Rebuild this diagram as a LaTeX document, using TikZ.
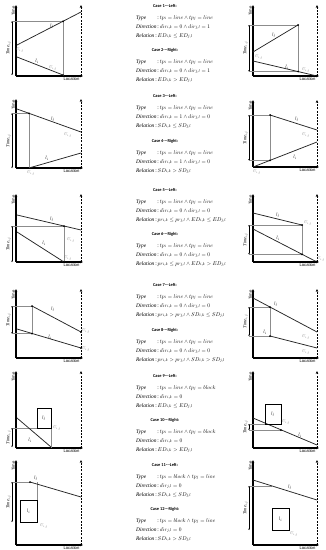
\documentclass[tikz,border=0pt]{standalone}
\usepackage{fontspec}
\setmainfont{Liberation Serif}
\setsansfont{Liberation Sans}
\newfontfamily\hdrfont{Carlito}
\usetikzlibrary{arrows.meta}
\newlength\dirw
\newcommand\chartaxes[4]{%
  \draw[axis] (#1,#3) -- (#1,#2);
  \draw[axis] (#1,#3) -- (#4+2,#3);
  \draw[dashax] (#4,#3) -- (#4,#2);
  \node[lab,rotate=90,anchor=south east] at (#1-0.6,#2+1) {Time};
  \node[lab,anchor=north east] at (#4-1,#3+1.2) {Location};}
\newcommand\tbracket[3]{%
  \draw[brk] (#1,#2) -- (#1,#3);
  \node[lab2,rotate=90] at (#1-3.6,{(#2+#3)/2}) {\textit{Time}$_{i,j}$};}
\newcommand\casetext[5]{%
  \node[hdr] at (165,#1) {#2};
  \node[txt] at (136,#1+12) {\makebox[\dirw][l]{\textit{Type}}\,:\,#3};
  \node[txt] at (136,#1+21) {\textit{Direction}\,:\,#4};
  \node[txt] at (136,#1+30) {\textit{Relation}\,:\,#5};}
\begin{document}
\settowidth{\dirw}{\fontsize{10.8}{12}\selectfont\textit{Direction}}%
\begin{tikzpicture}[x=2pt,y=-2pt,
  axis/.style={line width=2.2pt,-{Stealth[length=6pt,width=5.2pt]}},
  dashax/.style={line width=1.8pt,dash pattern=on 4pt off 2.4pt,-{Stealth[length=6pt,width=5.2pt]}},
  ln/.style={line width=1.5pt,black!85},
  gl/.style={line width=0.7pt,black!45},
  brk/.style={line width=0.7pt,{Stealth[length=2.8pt,width=3.2pt]}-{Stealth[length=2.8pt,width=3.2pt]}},
  dot/.style={circle,fill=black,inner sep=0pt,minimum size=4pt},
  lab/.style={font=\sffamily\fontsize{8.4}{10}\selectfont,inner sep=1pt},
  lab2/.style={font=\fontsize{9}{10}\selectfont,inner sep=0pt},
  ll/.style={font=\fontsize{9.6}{10}\selectfont,inner sep=0pt},
  ul/.style={font=\fontsize{8}{10}\selectfont,inner sep=0pt,text=black!55},
  blk/.style={line width=1.2pt},
  hdr/.style={font=\hdrfont\bfseries\fontsize{8.8}{10}\selectfont,inner sep=0pt},
  txt/.style={font=\fontsize{10.8}{12}\selectfont,anchor=west,inner sep=0pt}]
\useasboundingbox[fill=white] (0,0) rectangle (326,550);

% ---------- middle texts ----------
\casetext{6}{Case 1---Left:}{$tp_i=line\wedge tp_j=line$}{$dir_{i,k}=0\wedge dir_{j,l}=1$}{$ED_{i,k}\le ED_{j,l}$}
\casetext{50}{Case 2---Right:}{$tp_i=line\wedge tp_j=line$}{$dir_{i,k}=0\wedge dir_{j,l}=1$}{$ED_{i,k}> ED_{j,l}$}
\casetext{96}{Case 3---Left:}{$tp_i=line\wedge tp_j=line$}{$dir_{i,k}=1\wedge dir_{j,l}=0$}{$SD_{i,k}\le SD_{j,l}$}
\casetext{141}{Case 4---Right:}{$tp_i=line\wedge tp_j=line$}{$dir_{i,k}=1\wedge dir_{j,l}=0$}{$SD_{i,k}> SD_{j,l}$}
\casetext{190}{Case 5---Left:}{$tp_i=line\wedge tp_j=line$}{$dir_{i,k}=0\wedge dir_{j,l}=0$}{$pr_{i,k}\le pr_{j,l}\wedge ED_{i,k}\le ED_{j,l}$}
\casetext{234}{Case 6---Right:}{$tp_i=line\wedge tp_j=line$}{$dir_{i,k}=0\wedge dir_{j,l}=0$}{$pr_{i,k}\le pr_{j,l}\wedge ED_{i,k}> ED_{j,l}$}
\casetext{285}{Case 7---Left:}{$tp_i=line\wedge tp_j=line$}{$dir_{i,k}=0\wedge dir_{j,l}=0$}{$pr_{i,k}> pr_{j,l}\wedge SD_{i,k}\le SD_{j,l}$}
\casetext{330}{Case 8---Right:}{$tp_i=line\wedge tp_j=line$}{$dir_{i,k}=0\wedge dir_{j,l}=0$}{$pr_{i,k}> pr_{j,l}\wedge SD_{i,k}> SD_{j,l}$}
\casetext{376}{Case 9---Left:}{$tp_i=line\wedge tp_j=block$}{$dir_{i,k}=0$}{$ED_{i,k}\le ED_{j,l}$}
\casetext{420}{Case 10---Right:}{$tp_i=line\wedge tp_j=block$}{$dir_{i,k}=0$}{$ED_{i,k}> ED_{j,l}$}
\casetext{465}{Case 11---Left:}{$tp_i=block\wedge tp_j=line$}{$dir_{j,l}=0$}{$SD_{i,k}\le SD_{j,l}$}
\casetext{509}{Case 12---Right:}{$tp_i=block\wedge tp_j=line$}{$dir_{j,l}=0$}{$SD_{i,k}> SD_{j,l}$}

% ---------- Row 1 left ----------
\chartaxes{16}{5}{76}{81}
\draw[gl] (12,21.3) -- (63,21.3) -- (63,76);
\draw[ln] (17,45) -- (81,12);
\draw[ln] (17,57) -- (63,75);
\node[dot] at (63,21.3) {}; \node[dot] at (63,75) {};
\tbracket{12}{21.3}{75}
\node[ll] at (52,26) {$l_j$}; \node[ll] at (37,61) {$l_i$};
\node[ul] at (20,50) {$U_{i,j}$}; \node[ul] at (53,68) {$U_{i,j}$};
% ---------- Row 1 right ----------
\chartaxes{253}{5}{76}{317}
\draw[gl] (249,25) -- (298,25) -- (298,71.5) (249,71.5) -- (298,71.5);
\draw[ln] (253,52) -- (298,25);
\draw[ln] (253,61) -- (317,76);
\node[dot] at (298,25) {}; \node[dot] at (298,71.5) {}; \node[dot] at (316,76) {};
\tbracket{249}{25}{71.5}
\node[ll] at (274,35) {$l_j$}; \node[ll] at (287,67) {$l_i$};
\node[ul] at (259,57) {$U_{i,j}$}; \node[ul] at (306,70) {$U_{i,j}$};
% ---------- Row 2 left ----------
\chartaxes{16}{99}{168}{81}
\draw[gl] (12,113.3) -- (29,113.3) -- (29,168);
\draw[ln] (17,109) -- (81,132);
\draw[ln] (29,168) -- (81,153);
\node[dot] at (29,113.3) {};
\tbracket{12}{113.3}{168}
\node[ll] at (53,119) {$l_j$}; \node[ll] at (47,158) {$l_i$};
\node[ul] at (68,135) {$U_{i,j}$}; \node[ul] at (31,173) {$U_{i,j}$};
% ---------- Row 2 right ----------
\chartaxes{253}{100}{167}{317}
\draw[gl] (249,115) -- (270,115) -- (270,160.4) (249,160.4) -- (270,160.4);
\draw[ln] (270,115) -- (317,130);
\draw[ln] (253,167) -- (317,142);
\node[dot] at (270,115) {}; \node[dot] at (270,160.4) {};
\tbracket{249}{115}{160.4}
\node[ll] at (297,119) {$l_j$}; \node[ll] at (295,157) {$l_i$};
\node[ul] at (306,135) {$U_{i,j}$}; \node[ul] at (257,172) {$U_{i,j}$};
% ---------- Row 3 left ----------
\chartaxes{16}{194}{262}{81}
\draw[gl] (12,226) -- (64,226) -- (64,262);
\draw[ln] (17,215) -- (81,230);
\draw[ln] (17,232) -- (64,262);
\node[dot] at (64,226) {}; \node[dot] at (64,261.5) {};
\tbracket{12}{226}{262}
\node[ll] at (52,219) {$l_j$}; \node[ll] at (44,243) {$l_i$};
\node[ul] at (71,240) {$U_{i,j}$}; \node[ul] at (68,258) {$U_{i,j}$};
% ---------- Row 3 right ----------
\chartaxes{253}{194}{262}{317}
\draw[gl] (249,225) -- (302,225) -- (302,254.3) (249,254.3) -- (302,254.3);
\draw[ln] (253,213) -- (302,225);
\draw[ln] (253,229) -- (317,262);
\node[dot] at (302,225) {}; \node[dot] at (302,254.3) {}; \node[dot] at (316,261.5) {};
\tbracket{249}{225}{254.3}
\node[ll] at (278,215) {$l_j$}; \node[ll] at (278,238) {$l_i$};
\node[ul] at (308,223) {$U_{i,j}$}; \node[ul] at (321,259) {$U_{i,j}$};
% ---------- Row 4 left ----------
\chartaxes{16}{289}{358}{81}
\draw[gl] (12,306) -- (32,306) -- (32,333.5) (12,333.5) -- (32,333.5);
\draw[ln] (32,306) -- (81,332);
\draw[ln] (17,329) -- (81,348);
\node[dot] at (32,306) {}; \node[dot] at (32,333.5) {};
\node[dot] at (81,332) {}; \node[dot] at (81,348) {};
\tbracket{12}{306}{333.5}
\node[ll] at (53,309) {$l_j$}; \node[ll] at (50,337) {$l_i$};
\node[ul] at (86,331) {$U_{i,j}$}; \node[ul] at (86,349) {$U_{i,j}$};
% ---------- Row 4 right ----------
\chartaxes{253}{289}{358}{317}
\draw[gl] (249,307) -- (270,307) -- (270,336) (249,336) -- (270,336);
\draw[ln] (253,298) -- (317,332);
\draw[ln] (270,336) -- (317,348);
\node[dot] at (270,307) {}; \node[dot] at (270,336) {};
\tbracket{249}{307}{336}
\node[ll] at (276,304) {$l_j$}; \node[ll] at (265,332) {$l_i$};
\node[ul] at (306,337) {$U_{i,j}$}; \node[ul] at (306,352) {$U_{i,j}$};
% ---------- Row 5 left ----------
\chartaxes{16}{371}{448}{81}
\draw[gl] (12,428) -- (37,428) (51,428) -- (51,448);
\draw[ln] (17,418) -- (51,447);
\draw[blk] (37,408) rectangle (51,428);
\node[ll] (b9) at (44,418) {$l_j$};
\tbracket{12}{428}{447}
\node[ll] at (30,440) {$l_i$};
\node[ul] at (57,428) {$U_{i,j}$};
% ---------- Row 5 right ----------
\chartaxes{253}{371}{448}{317}
\draw[gl] (249,424) -- (265,424) (249,430) -- (281,430);
\draw[ln] (253,418) -- (317,445);
\draw[blk] (265,404) rectangle (281,424);
\node[ll] (b10) at (273,414) {$l_j$};
\node[dot] at (281,430) {};
\tbracket{249}{424}{430}
\node[ll] at (300,435) {$l_i$};
\node[ul] at (286,422) {$U_{i,j}$};
% ---------- Row 6 left ----------
\chartaxes{16}{460}{545}{81}
\draw[gl] (12,482) -- (30,482) (37,482) -- (37,500);
\draw[ln] (30,482) -- (81,497);
\node[dot] at (30,482) {};
\draw[blk] (20,500) rectangle (37,522);
\node[ll] (b11) at (28.5,511) {$l_i$};
\tbracket{12}{482}{522}
\node[ll] at (36,478) {$l_j$};
\node[ul] at (44,526) {$U_{i,j}$};
% ---------- Row 6 right ----------
\chartaxes{253}{460}{545}{317}
\draw[gl] (249,486) -- (272,486);
\draw[ln] (253,480) -- (317,500);
\draw[blk] (272,508) rectangle (289,530);
\node[ll] (b12) at (280.5,519) {$l_i$};
\tbracket{249}{486}{530}
\node[ll] at (290,487) {$l_j$};
\node[ul] at (294,534) {$U_{i,j}$};
\end{tikzpicture}
\end{document}
